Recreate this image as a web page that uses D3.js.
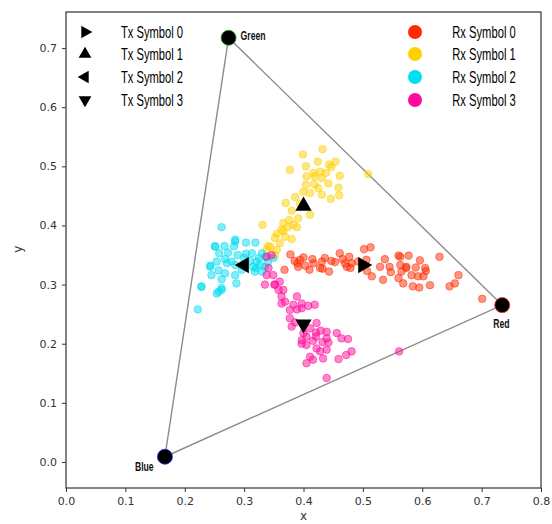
<!DOCTYPE html>
<html>
<head>
<meta charset="utf-8">
<script src="https://cdn.jsdelivr.net/npm/d3@7"></script>
<style>
  body { margin: 0; background: #fff; }
  svg { display: block; }
  .tick text { font-family: "DejaVu Sans", sans-serif; font-size: 11px; fill: #333; }
  .lbl { font-family: "Liberation Sans", "DejaVu Sans", sans-serif; }
</style>
</head>
<body>
<div id="chart"></div>
<script>
// chromaticity primaries (triangle corners)
const vertexNames = ['Green', 'Red', 'Blue'];
const vertexX = [0.2738, 0.7347, 0.1666];
const vertexY = [0.7174, 0.2653, 0.0089];
const vertexEdge = ['#2a2', '#e22', '#22e'];

// transmitted symbols
const txNames = ['Tx Symbol 0', 'Tx Symbol 1', 'Tx Symbol 2', 'Tx Symbol 3'];
const txX = [0.5, 0.4, 0.3, 0.4];
const txY = [0.333, 0.433, 0.333, 0.233];
const txRotate = [90, 0, -90, 180];

// received symbols
const rxNames = ['Rx Symbol 0', 'Rx Symbol 1', 'Rx Symbol 2', 'Rx Symbol 3'];
const rxColors = ['#ff2a00', '#ffd000', '#00def2', '#ff0a9a'];

const rx0 = [
  [0.378,0.351],[0.368,0.325],[0.385,0.340],[0.394,0.342],[0.400,0.346],[0.391,0.330],[0.403,0.332],
  [0.415,0.343],[0.417,0.336],[0.431,0.339],[0.432,0.327],[0.443,0.322],[0.447,0.340],[0.453,0.338],
  [0.461,0.353],[0.466,0.343],[0.473,0.330],[0.477,0.347],[0.481,0.336],[0.479,0.328],[0.470,0.336],
  [0.492,0.339],[0.502,0.360],[0.513,0.363],[0.506,0.342],[0.507,0.323],[0.515,0.314],[0.529,0.330],
  [0.534,0.308],[0.537,0.343],[0.545,0.330],[0.547,0.321],[0.560,0.349],[0.560,0.311],[0.563,0.333],
  [0.573,0.328],[0.410,0.325],[0.428,0.328],[0.563,0.347],[0.577,0.349],[0.596,0.341],[0.573,0.330],
  [0.589,0.329],[0.606,0.323],[0.629,0.347],[0.565,0.322],[0.582,0.316],[0.593,0.314],[0.602,0.314],
  [0.605,0.328],[0.568,0.302],[0.584,0.297],[0.595,0.295],[0.613,0.299],[0.646,0.297],[0.655,0.302],
  [0.661,0.316],[0.701,0.276],[0.390,0.336],[0.436,0.345]
];
const rx1 = [
  [0.399,0.520],[0.432,0.529],[0.377,0.494],[0.404,0.500],[0.424,0.508],[0.443,0.503],[0.454,0.508],
  [0.447,0.499],[0.417,0.489],[0.428,0.491],[0.438,0.489],[0.461,0.484],[0.405,0.483],[0.419,0.483],
  [0.431,0.480],[0.404,0.469],[0.418,0.470],[0.425,0.463],[0.442,0.471],[0.459,0.464],[0.400,0.457],
  [0.411,0.455],[0.431,0.452],[0.446,0.445],[0.460,0.451],[0.386,0.448],[0.394,0.437],[0.370,0.438],
  [0.380,0.425],[0.411,0.418],[0.391,0.412],[0.376,0.409],[0.366,0.404],[0.383,0.401],[0.331,0.401],
  [0.374,0.397],[0.366,0.390],[0.389,0.397],[0.363,0.393],[0.355,0.386],[0.369,0.381],[0.380,0.377],
  [0.360,0.370],[0.341,0.365],[0.509,0.487],[0.352,0.379],[0.344,0.364],[0.338,0.359],[0.355,0.359],
  [0.352,0.349]
];
const rx2 = [
  [0.251,0.365],[0.267,0.365],[0.283,0.365],[0.285,0.373],[0.303,0.371],[0.319,0.371],[0.258,0.353],
  [0.273,0.354],[0.289,0.350],[0.303,0.352],[0.313,0.353],[0.330,0.353],[0.335,0.347],[0.268,0.343],
  [0.254,0.339],[0.279,0.339],[0.285,0.333],[0.271,0.336],[0.243,0.332],[0.321,0.339],[0.327,0.333],
  [0.315,0.330],[0.335,0.330],[0.330,0.322],[0.318,0.322],[0.296,0.325],[0.257,0.324],[0.268,0.319],
  [0.245,0.316],[0.285,0.316],[0.262,0.309],[0.287,0.302],[0.228,0.296],[0.262,0.294],[0.257,0.288],
  [0.254,0.285],[0.222,0.258],[0.349,0.345],[0.262,0.397],[0.285,0.376],[0.251,0.364],[0.243,0.330],
  [0.228,0.297],[0.262,0.291],[0.325,0.345],[0.310,0.340],[0.340,0.338],[0.300,0.345],[0.320,0.328]
];
const rx3 = [
  [0.335,0.300],[0.352,0.300],[0.360,0.305],[0.358,0.291],[0.366,0.291],[0.363,0.280],[0.369,0.271],
  [0.363,0.268],[0.389,0.280],[0.383,0.266],[0.397,0.268],[0.408,0.264],[0.419,0.266],[0.377,0.257],
  [0.389,0.258],[0.397,0.260],[0.377,0.243],[0.386,0.236],[0.380,0.229],[0.422,0.235],[0.411,0.226],
  [0.421,0.219],[0.429,0.222],[0.439,0.220],[0.400,0.218],[0.405,0.212],[0.421,0.212],[0.439,0.209],
  [0.397,0.206],[0.416,0.205],[0.456,0.218],[0.464,0.209],[0.475,0.208],[0.432,0.203],[0.442,0.202],
  [0.405,0.198],[0.422,0.192],[0.439,0.190],[0.397,0.200],[0.428,0.187],[0.472,0.181],[0.481,0.187],
  [0.459,0.174],[0.433,0.175],[0.411,0.178],[0.416,0.173],[0.405,0.167],[0.439,0.142],[0.338,0.316],
  [0.561,0.187],[0.338,0.347],[0.346,0.350],[0.341,0.328],[0.351,0.300],[0.349,0.316]
];
const rxData = [rx0, rx1, rx2, rx3];

const xTicks = [0.0, 0.1, 0.2, 0.3, 0.4, 0.5, 0.6, 0.7, 0.8];
const yTicks = [0.0, 0.1, 0.2, 0.3, 0.4, 0.5, 0.6, 0.7];

const width = 552, height = 524;
const margin = { top: 12, right: 11, bottom: 36, left: 66 };
const innerW = width - margin.left - margin.right;
const innerH = height - margin.top - margin.bottom;

const svg = d3.select('#chart').append('svg')
    .attr('width', width)
    .attr('height', height);

const g = svg.append('g')
    .attr('transform', `translate(${margin.left},${margin.top})`);

const x = d3.scaleLinear().domain([0, 0.8]).range([0, innerW]);
const y = d3.scaleLinear().domain([-0.044, 0.761]).range([innerH, 0]);

// narrow label text: squeeze horizontally
function narrowText(sel, sx) {
    sel.attr('transform', d => `translate(${d.tx},${d.ty}) scale(${sx},1)`)
        .attr('x', 0).attr('y', 0);
}

// Axes
g.append('g')
    .attr('transform', `translate(0,${innerH})`)
    .call(d3.axisBottom(x).tickValues(xTicks).tickFormat(d3.format('.1f')).tickSizeOuter(0).tickSize(4).tickPadding(5))
    .call(s => s.select('.domain').remove())
    .call(s => s.selectAll('.tick line').attr('stroke', '#333'));

g.append('g')
    .call(d3.axisLeft(y).tickValues(yTicks).tickFormat(d3.format('.1f')).tickSizeOuter(0).tickSize(4).tickPadding(5))
    .call(s => s.select('.domain').remove())
    .call(s => s.selectAll('.tick line').attr('stroke', '#333'));

// Frame
g.append('rect')
    .attr('width', innerW).attr('height', innerH)
    .attr('fill', 'none').attr('stroke', '#333').attr('stroke-width', 1.2);

// Axis labels
svg.append('text')
    .attr('x', margin.left + innerW / 2).attr('y', 520)
    .attr('text-anchor', 'middle')
    .style('font-family', '"DejaVu Sans", sans-serif').style('font-size', '12px').attr('fill', '#333')
    .text('x');
svg.append('text')
    .attr('transform', `translate(22,${margin.top + y(0.36)}) rotate(-90)`)
    .attr('text-anchor', 'middle')
    .style('font-family', '"DejaVu Sans", sans-serif').style('font-size', '12px').attr('fill', '#333')
    .text('y');

// Triangle (gamut)
const tri = vertexX.map((vx, i) => [x(vx), y(vertexY[i])]);
g.append('path')
    .attr('d', d3.line()(tri.concat([tri[0]])))
    .attr('fill', 'none').attr('stroke', '#8a8a8a').attr('stroke-width', 1.4);

// Received points
rxData.forEach((pts, k) => {
    g.append('g').selectAll('circle')
        .data(pts)
        .join('circle')
        .attr('cx', d => x(d[0]))
        .attr('cy', d => y(d[1]))
        .attr('r', 3.8)
        .attr('fill', rxColors[k])
        .attr('fill-opacity', 0.5)
        .attr('stroke', rxColors[k])
        .attr('stroke-opacity', 0.5)
        .attr('stroke-width', 1);
});

// Transmitted symbols
const triSym = d3.symbol().type(d3.symbolTriangle).size(115);
g.append('g').selectAll('path')
    .data(txX.map((tx, i) => ({ x: tx, y: txY[i], r: txRotate[i] })))
    .join('path')
    .attr('d', triSym)
    .attr('transform', d => `translate(${x(d.x)},${y(d.y)}) rotate(${d.r})`)
    .attr('fill', '#000');

// Vertices
g.append('g').selectAll('circle')
    .data(tri)
    .join('circle')
    .attr('cx', d => d[0]).attr('cy', d => d[1])
    .attr('r', 7.5)
    .attr('fill', '#000')
    .attr('stroke', (d, i) => vertexEdge[i]).attr('stroke-width', 0.8);

const vOffset = [[12, 2], [-9, 23], [-30, 14]];
g.append('g').selectAll('text')
    .data(tri.map((p, i) => ({ tx: p[0] + vOffset[i][0], ty: p[1] + vOffset[i][1], name: vertexNames[i] })))
    .join('text')
    .attr('class', 'lbl')
    .call(narrowText, 0.72)
    .style('font-size', '12px').style('font-weight', 'bold')
    .attr('fill', '#111')
    .text(d => d.name);

// Legends
const rowY = [32, 54, 77, 100];
const legSym = d3.symbol().type(d3.symbolTriangle).size(70);
const txLeg = svg.append('g');
txLeg.selectAll('path')
    .data(txNames)
    .join('path')
    .attr('d', legSym)
    .attr('transform', (d, i) => `translate(85,${rowY[i]}) rotate(${txRotate[i]})`)
    .attr('fill', '#000');
txLeg.selectAll('text')
    .data(txNames.map((n, i) => ({ tx: 152, ty: rowY[i] + 6, name: n })))
    .join('text')
    .attr('class', 'lbl')
    .call(narrowText, 0.7)
    .attr('text-anchor', 'middle')
    .style('font-size', '16px')
    .attr('fill', '#000')
    .text(d => d.name);

const rxLeg = svg.append('g');
rxLeg.selectAll('circle')
    .data(rxNames)
    .join('circle')
    .attr('cx', 415).attr('cy', (d, i) => rowY[i])
    .attr('r', 7)
    .attr('fill', (d, i) => rxColors[i]);
rxLeg.selectAll('text')
    .data(rxNames.map((n, i) => ({ tx: 484, ty: rowY[i] + 6, name: n })))
    .join('text')
    .attr('class', 'lbl')
    .call(narrowText, 0.7)
    .attr('text-anchor', 'middle')
    .style('font-size', '16px')
    .attr('fill', '#000')
    .text(d => d.name);
</script>
</body>
</html>
